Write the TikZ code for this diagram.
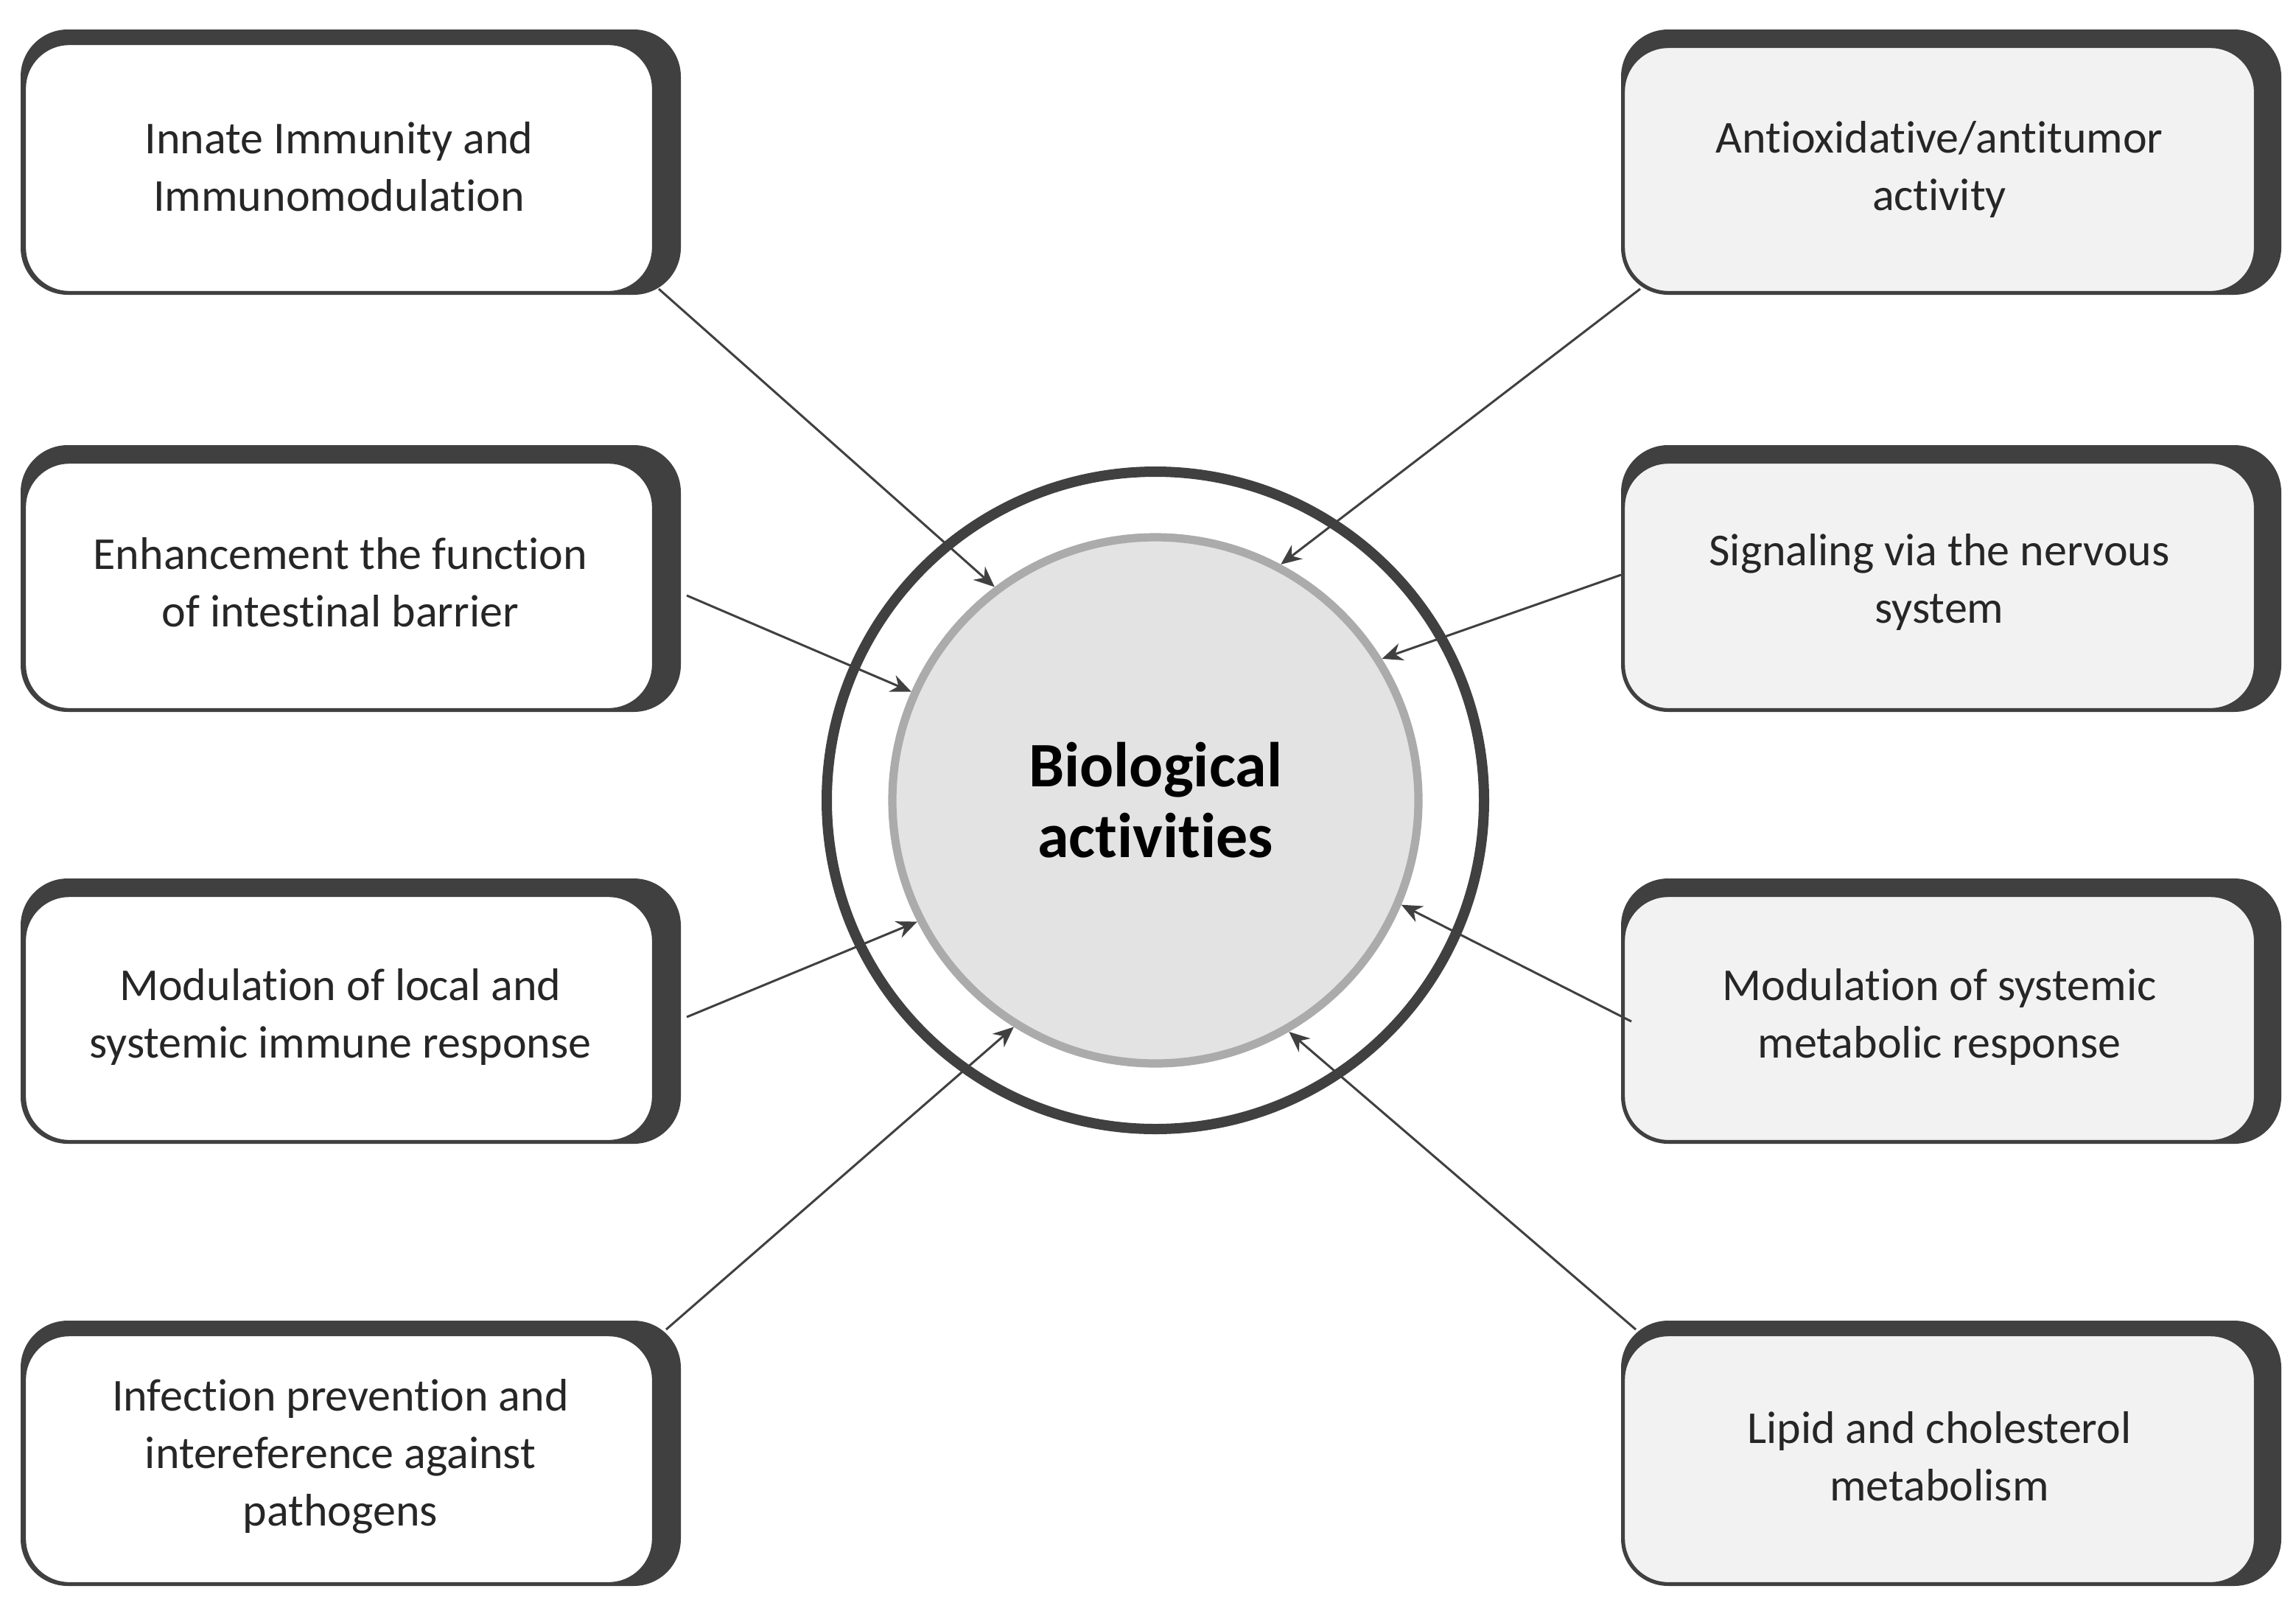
\documentclass[tikz,border=0pt]{standalone}
\usepackage{fontspec}
\setmainfont[RawFeature=-liga]{Carlito}
\usetikzlibrary{arrows.meta}
\definecolor{dk}{HTML}{404040}
\begin{document}
\begin{tikzpicture}[x=0.5pt,y=-0.5pt,
  shad/.style={fill=dk,rounded corners=16pt},
  lbox/.style={draw=dk,line width=0.6pt,fill=white,rounded corners=15pt},
  rbox/.style={draw=dk,line width=0.6pt,fill=black!5,rounded corners=15pt},
  txt/.style={font=\fontsize{15.5}{19.5}\selectfont,align=center,text=black!85},
  arr/.style={draw=dk,line width=0.75pt,-{Stealth[length=7pt,width=6pt]}}]
\useasboundingbox (0,0) rectangle (1558,1092.5);
% left boxes
\foreach \ya/\yb/\yc in {20/200/30, 302/483/314, 596/776/608, 896/1076/906}{
  \fill[shad] (14,\ya) rectangle (462,\yb);
  \draw[lbox] (17,\yc) rectangle (443,\yb-2);
}
\foreach \ya/\yb/\yc in {20/200/32, 302/483/314, 596/776/608, 896/1076/906}{
  \fill[shad] (1100,\ya) rectangle (1548,\yb);
  \draw[rbox] (1102,\yc) rectangle (1530,\yb-2);
}
\node[txt] (l1) at (230,113) {Innate Immunity and\\Immunomodulation};
\node[txt] (l2) at (231,395) {Enhancement\ the function\\of intestinal barrier};
\node[txt] (l3) at (231,690) {Modulation of local and\\systemic immune response};
\node[txt] (l4) at (231,988) {Infection prevention and\\intereference\ against\\pathogens};
\node[txt] (r1) at (1316,115) {Antioxidative/antitumor\\activity};
\node[txt] (r2) at (1316,395) {Signaling via the nervous\\system};
\node[txt] (r3) at (1316,690) {Modulation of systemic\\metabolic response};
\node[txt] (r4) at (1316,988) {Lipid and cholesterol\\metabolism};
% circles
\node[circle,draw=dk,line width=3.5pt,minimum size=446pt*0.5] (oc) at (784,543) {};
\node[circle,draw=black!33,fill=black!11,line width=2.8pt,minimum size=357pt*0.5,
  font=\bfseries\fontsize{21.5}{24}\selectfont,align=center] (c) at (784,543) {Biological\\activities};
% arrow starts
\coordinate (s1) at (447,196);
\coordinate (s2) at (466,404);
\coordinate (s3) at (466,690);
\coordinate (s4) at (452,902);
\coordinate (t1) at (1113,196);
\coordinate (t2) at (1100,390);
\coordinate (t3) at (1107,693);
\coordinate (t4) at (1110,902);
\draw[arr] (s1) -- (c.127);
\draw[arr] (s2) -- (c.156);
\draw[arr] (s3) -- (c.207);
\draw[arr] (s4) -- (c.238);
\draw[arr] (t1) -- (c.62);
\draw[arr] (t2) -- (c.32);
\draw[arr] (t3) -- (c.-23);
\draw[arr] (t4) -- (c.-60);
\end{tikzpicture}
\end{document}
